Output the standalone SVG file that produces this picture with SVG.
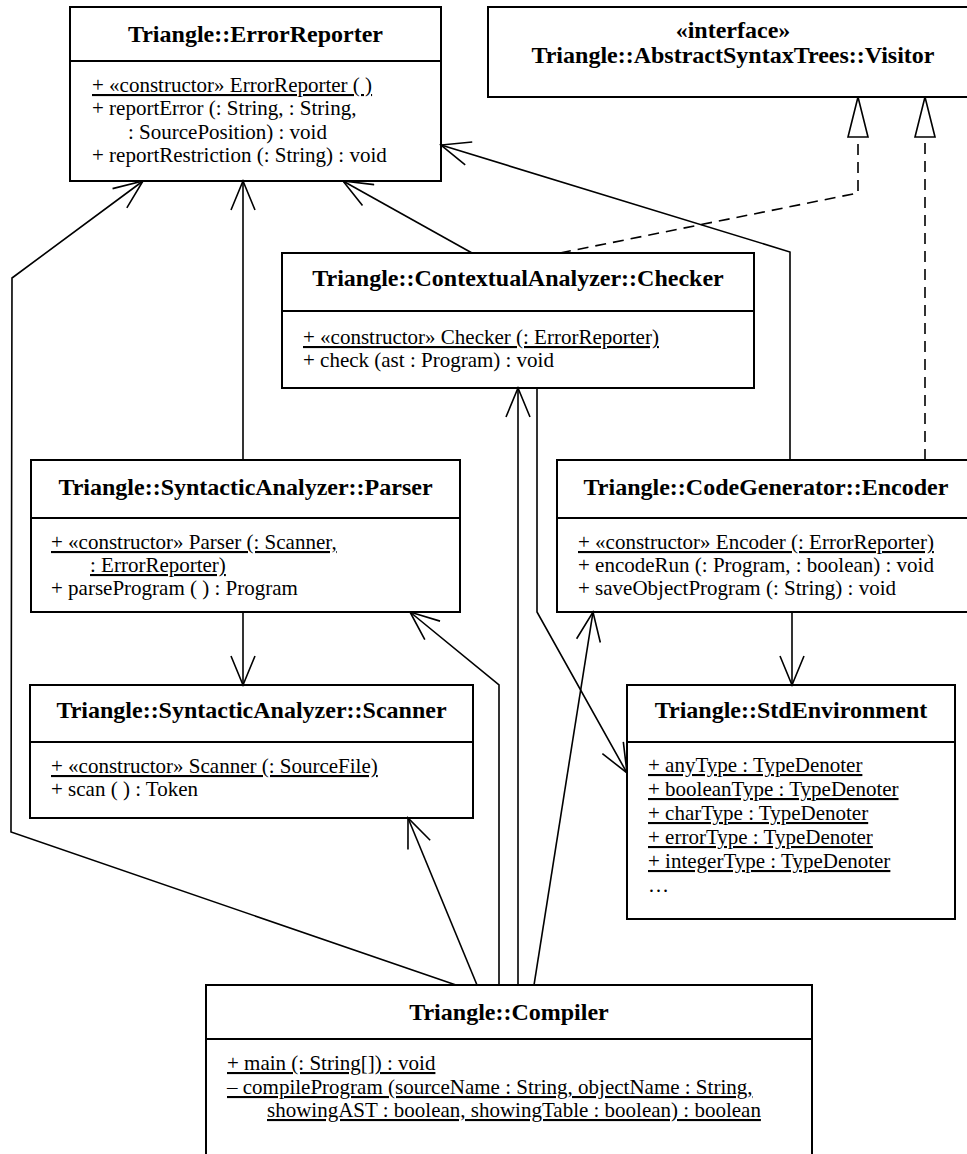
<svg xmlns="http://www.w3.org/2000/svg" width="967" height="1154" viewBox="0 0 967 1154">
<style>
.box{fill:#fff;stroke:#000;stroke-width:2}
.dv{stroke:#000;stroke-width:2}
.t{font-family:'Liberation Serif','DejaVu Serif',serif;font-size:24px;font-weight:bold;text-anchor:middle;fill:#000}
.m{font-family:'Liberation Serif','DejaVu Serif',serif;font-size:21px;fill:#000}
.u{text-decoration:underline}
.ln{fill:none;stroke:#000;stroke-width:1.6}
.dash{stroke-dasharray:11 7}
</style>
<defs>
<marker id="open" markerUnits="userSpaceOnUse" markerWidth="32" markerHeight="26" viewBox="0 0 32 26" refX="30" refY="13" orient="auto">
<path d="M1,1 L30,13 L1,25" fill="none" stroke="#000" stroke-width="1.6"/>
</marker>
<marker id="tri" markerUnits="userSpaceOnUse" markerWidth="44" markerHeight="24" viewBox="0 0 44 24" refX="42" refY="12" orient="auto">
<path d="M2,2 L42,12 L2,22 Z" fill="#fff" stroke="#000" stroke-width="1.6"/>
</marker>
</defs>
<rect x="0" y="0" width="967" height="1154" fill="#fff"/>

<g id="ErrorReporter">
<rect class="box" x="70" y="7" width="371" height="174"/>
<line class="dv" x1="70" y1="61" x2="441" y2="61"/>
<text class="t" x="255.5" y="42" font-family="Liberation Serif, serif">Triangle::ErrorReporter</text>
<text class="m u" x="92" y="92" font-family="Liberation Serif, serif">+ «constructor» ErrorReporter ( )</text>
<text class="m" x="92" y="115" font-family="Liberation Serif, serif">+ reportError (: String, : String,</text>
<text class="m" x="128" y="139" font-family="Liberation Serif, serif">: SourcePosition) : void</text>
<text class="m" x="92" y="162" font-family="Liberation Serif, serif">+ reportRestriction (: String) : void</text>
</g>

<g id="Visitor">
<rect class="box" x="488" y="7" width="500" height="90"/>
<text class="t" x="733" y="38">«interface»</text>
<text class="t" x="733" y="63">Triangle::AbstractSyntaxTrees::Visitor</text>
</g>

<g id="Checker">
<rect class="box" x="282" y="253" width="472" height="135"/>
<line class="dv" x1="282" y1="311" x2="754" y2="311"/>
<text class="t" x="518" y="286">Triangle::ContextualAnalyzer::Checker</text>
<text class="m u" x="303" y="344">+ «constructor» Checker (: ErrorReporter)</text>
<text class="m" x="303" y="367">+ check (ast : Program) : void</text>
</g>

<g id="Parser">
<rect class="box" x="31" y="460" width="429" height="152"/>
<line class="dv" x1="31" y1="518" x2="460" y2="518"/>
<text class="t" x="245.5" y="495">Triangle::SyntacticAnalyzer::Parser</text>
<text class="m u" x="51" y="549">+ «constructor» Parser (: Scanner,</text>
<text class="m u" x="90" y="572">: ErrorReporter)</text>
<text class="m" x="51" y="595">+ parseProgram ( ) : Program</text>
</g>

<g id="Encoder">
<rect class="box" x="557" y="460" width="420" height="152"/>
<line class="dv" x1="557" y1="518" x2="977" y2="518"/>
<text class="t" x="766" y="495">Triangle::CodeGenerator::Encoder</text>
<text class="m u" x="578" y="549">+ «constructor» Encoder (: ErrorReporter)</text>
<text class="m" x="578" y="572">+ encodeRun (: Program, : boolean) : void</text>
<text class="m" x="578" y="595">+ saveObjectProgram (: String) : void</text>
</g>

<g id="Scanner">
<rect class="box" x="30" y="685" width="443" height="133"/>
<line class="dv" x1="30" y1="742" x2="473" y2="742"/>
<text class="t" x="251.5" y="718">Triangle::SyntacticAnalyzer::Scanner</text>
<text class="m u" x="51" y="773">+ «constructor» Scanner (: SourceFile)</text>
<text class="m" x="51" y="796">+ scan ( ) : Token</text>
</g>

<g id="StdEnvironment">
<rect class="box" x="627" y="685" width="328" height="234"/>
<line class="dv" x1="627" y1="742" x2="955" y2="742"/>
<text class="t" x="791" y="718">Triangle::StdEnvironment</text>
<text class="m u" x="648" y="772">+ anyType : TypeDenoter</text>
<text class="m u" x="648" y="796">+ booleanType : TypeDenoter</text>
<text class="m u" x="648" y="820">+ charType : TypeDenoter</text>
<text class="m u" x="648" y="844">+ errorType : TypeDenoter</text>
<text class="m u" x="648" y="868">+ integerType : TypeDenoter</text>
<text class="m" x="648" y="892">…</text>
</g>

<g id="Compiler">
<rect class="box" x="206" y="985" width="606" height="200"/>
<line class="dv" x1="206" y1="1039" x2="812" y2="1039"/>
<text class="t" x="509" y="1020">Triangle::Compiler</text>
<text class="m u" x="227" y="1070">+ main (: String[]) : void</text>
<text class="m u" x="227" y="1094">– compileProgram (sourceName : String, objectName : String,</text>
<text class="m u" x="267" y="1117">showingAST : boolean, showingTable : boolean) : boolean</text>
</g>

<g id="connectors">
<polyline class="ln" points="456,985 11,832 12,278 143,181" marker-end="url(#open)"/>
<polyline class="ln" points="243,460 243,181" marker-end="url(#open)"/>
<polyline class="ln" points="472,253 343,181" marker-end="url(#open)"/>
<polyline class="ln" points="790,460 790,252 441,145" marker-end="url(#open)"/>
<polyline class="ln dash" points="560,253 858,193 858,97" marker-end="url(#tri)"/>
<polyline class="ln dash" points="925,460 925,97" marker-end="url(#tri)"/>
<polyline class="ln" points="243,612 243,685" marker-end="url(#open)"/>
<polyline class="ln" points="477,985 408,818" marker-end="url(#open)"/>
<polyline class="ln" points="499,985 499,685 410,612" marker-end="url(#open)"/>
<polyline class="ln" points="518,985 518,388" marker-end="url(#open)"/>
<polyline class="ln" points="537,388 537,612 627,773" marker-end="url(#open)"/>
<polyline class="ln" points="534,985 593,612" marker-end="url(#open)"/>
<polyline class="ln" points="792,612 792,685" marker-end="url(#open)"/>
</g>
</svg>
